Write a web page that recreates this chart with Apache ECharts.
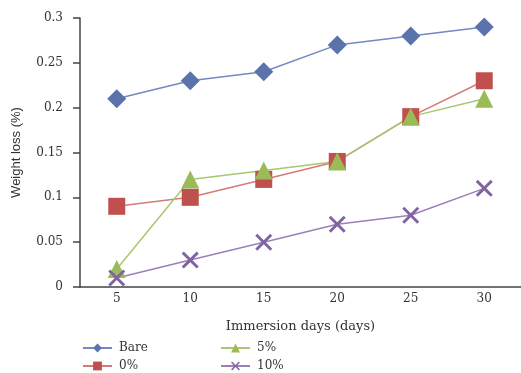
<!DOCTYPE html>
<html>
<head>
<meta charset="utf-8">
<script src="https://cdn.jsdelivr.net/npm/echarts@6/dist/echarts.min.js"></script>
<style>
  html, body { margin: 0; padding: 0; background: #fff; }
  #chart { width: 521px; height: 373px; }
</style>
</head>
<body>
<div id="chart"></div>
<script>
// Immersion time (days) on the category axis
const days = ['5', '10', '15', '20', '25', '30'];

// Weight loss (%) for each coating
const bare = [0.21, 0.23, 0.24, 0.27, 0.28, 0.29];
const pct0 = [0.09, 0.10, 0.12, 0.14, 0.19, 0.23];
const pct5 = [0.02, 0.12, 0.13, 0.14, 0.19, 0.21];
const pct10 = [0.01, 0.03, 0.05, 0.07, 0.08, 0.11];

const yTicks = [0, 0.05, 0.1, 0.15, 0.2, 0.25, 0.3];

const serif = "'DejaVu Serif', 'Liberation Serif', serif";
const textColor = '#333333';
const axisColor = '#444444';

const crossPath = 'path://M0,1.2 L1.2,0 L5,3.8 L8.8,0 L10,1.2 L6.2,5 L10,8.8 L8.8,10 L5,6.2 L1.2,10 L0,8.8 L3.8,5 Z';

function lineSeries(name, data, color, lineColor, symbol, size) {
  return {
    name: name,
    type: 'line',
    data: data,
    symbol: symbol,
    symbolSize: size,
    showAllSymbol: true,
    lineStyle: { color: lineColor, width: 1.5 },
    itemStyle: { color: color },
    emphasis: { disabled: true },
    animation: false
  };
}

// one single-entry legend per slot, arranged in two columns
function legendSlot(name, left, top) {
  return {
    orient: 'horizontal',
    left: left, top: top,
    padding: 0,
    itemWidth: 29, itemHeight: 11,
    data: [name],
    textStyle: { fontFamily: serif, fontSize: 12, color: textColor, padding: [0, 0, 0, 2] }
  };
}

const chart = echarts.init(document.getElementById('chart'), null, { renderer: 'canvas' });

chart.setOption({
  animation: false,
  backgroundColor: '#ffffff',
  grid: { left: 80, right: 0, top: 18, bottom: 86 },
  legend: [
    legendSlot('Bare', 82, 342),
    legendSlot('0%', 82, 360),
    legendSlot('5%', 220, 342),
    legendSlot('10%', 220, 360)
  ],
  xAxis: {
    type: 'category',
    data: days,
    boundaryGap: true,
    name: 'Immersion days (days)',
    nameLocation: 'middle',
    nameGap: 33,
    nameTextStyle: { fontFamily: serif, fontSize: 13, color: textColor },
    axisLine: { lineStyle: { color: axisColor, width: 1.5 } },
    axisTick: { show: false },
    axisLabel: { fontFamily: serif, fontSize: 12, color: textColor, margin: 6 }
  },
  yAxis: {
    type: 'value',
    min: yTicks[0],
    max: yTicks[yTicks.length - 1],
    interval: 0.05,
    name: 'Weight loss (%)',
    nameLocation: 'middle',
    nameGap: 57,
    nameTextStyle: { fontFamily: "'Liberation Sans Narrow', 'Liberation Sans', sans-serif", fontSize: 13, color: textColor },
    splitLine: { show: false },
    axisLine: { show: true, lineStyle: { color: axisColor, width: 1.5 } },
    axisTick: { show: true, length: 7, lineStyle: { color: axisColor, width: 1.5 } },
    axisLabel: {
      fontFamily: serif, fontSize: 12, color: textColor, margin: 17,
      formatter: function (v) { return String(Math.round(v * 100) / 100); }
    }
  },
  series: [
    lineSeries('Bare', bare, '#5b73ad', '#7388c4', 'diamond', 19),
    lineSeries('0%', pct0, '#c0504d', '#d57a78', 'rect', 17),
    lineSeries('5%', pct5, '#9bbb59', '#a9c76e', 'triangle', 18),
    lineSeries('10%', pct10, '#8064a2', '#9a7fbb', crossPath, 17)
  ]
});
</script>
</body>
</html>
